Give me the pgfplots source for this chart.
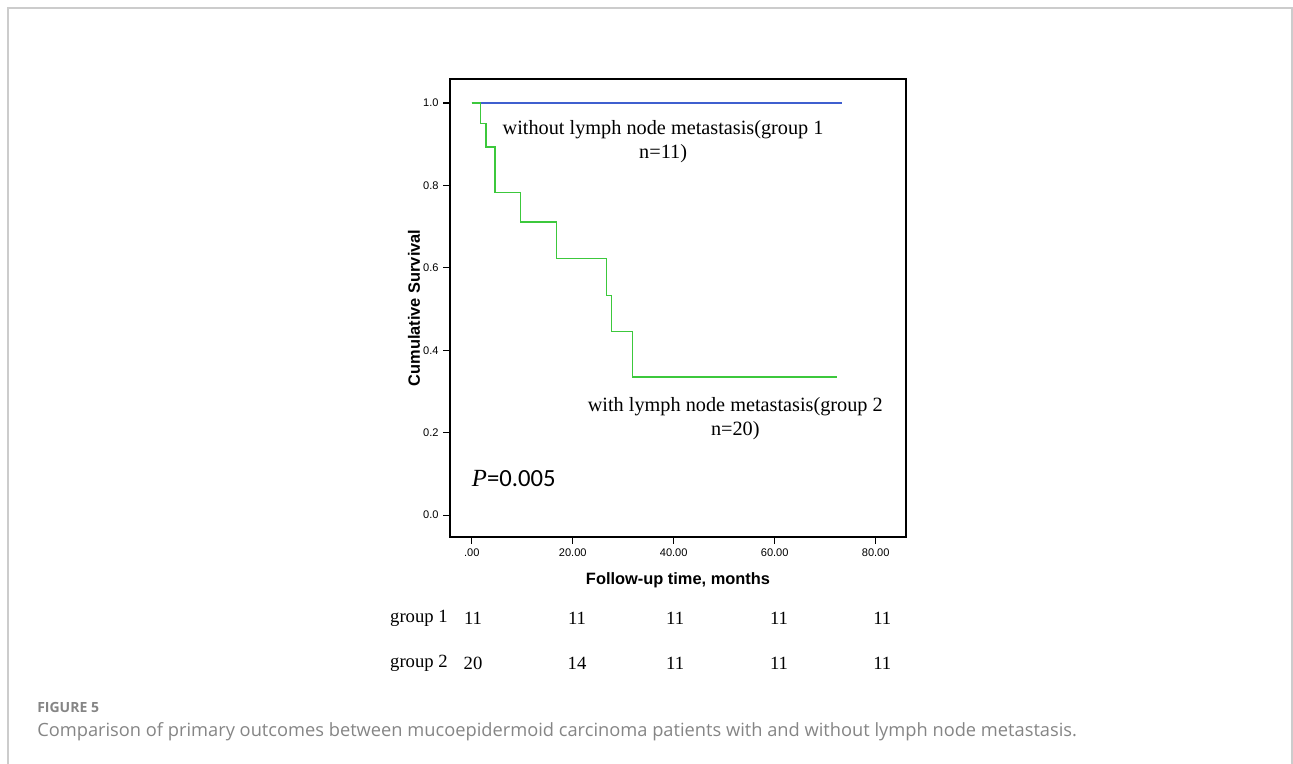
\documentclass[border=0pt]{standalone}
\usepackage{fontspec}
\setmainfont{Liberation Serif}
\setsansfont{Liberation Sans}
\newfontfamily\capfont{Open Sans}
\newfontfamily\calfont{Carlito}
\usepackage{pgfplots}
\pgfplotsset{compat=1.18}
\definecolor{kmblue}{HTML}{3F5FCF}
\definecolor{kmgreen}{HTML}{3CC83C}
\definecolor{capgray}{HTML}{858585}
\definecolor{framegray}{HTML}{CCCCCC}

\begin{document}
\begin{tikzpicture}
% page of 1293 x 764 px, 1 px = 0.75 pt
\path[use as bounding box] (0,0) rectangle (969.75pt,-573pt);
\draw[framegray, line width=1.2pt] (6pt,-573pt) -- (6pt,-6pt) -- (969pt,-6pt) -- (969pt,-573pt);

\begin{axis}[
  at={(337.5pt,-402.75pt)}, anchor=south west,
  scale only axis,
  width=342pt, height=343.5pt,
  xmin=-4.3, xmax=86,
  ymin=-0.053, ymax=1.058,
  axis line style={line width=1pt},
  xtick={0,20,40,60,80},
  xticklabels={.00,20.00,40.00,60.00,80.00},
  ytick={0,0.2,0.4,0.6,0.8,1.0},
  yticklabels={0.0,0.2,0.4,0.6,0.8,1.0},
  xtick pos=bottom, ytick pos=left,
  tick align=outside,
  major tick length=5pt,
  tick style={black, line width=0.9pt},
  ticklabel style={font=\sffamily\fontsize{8.3}{9}\selectfont},
  xlabel={Follow-up time, months},
  ylabel={Cumulative Survival},
  label style={font=\sffamily\bfseries\fontsize{12.3}{14}\selectfont},
  xlabel style={at={(axis description cs:0.5,-0.094)}, anchor=center},
  ylabel style={at={(axis description cs:-0.079,0.5)}, anchor=center},
  clip=false,
]
% group 1: no events
\addplot[kmblue, line width=0.9pt, const plot] coordinates {
  (0,1.0) (73.3,1.0)
};
% group 2
\addplot[kmgreen, line width=1pt, const plot] coordinates {
  (0,1.0) (1.8,0.950) (2.8,0.893) (4.6,0.783) (9.6,0.711) (16.8,0.622)
  (26.7,0.533) (27.7,0.446) (31.9,0.335) (72.3,0.335)
};

\node[font=\fontsize{15.2}{18}\selectfont, align=center] at (axis cs:37.9,0.905)
  {without lymph node metastasis(group 1\\n=11)};
\node[font=\fontsize{15.2}{18}\selectfont, align=center] at (axis cs:52.2,0.234)
  {with lymph node metastasis(group 2\\n=20)};
\node[anchor=west, inner sep=0pt, font=\fontsize{18.5}{21}\selectfont] at (axis cs:0,0.088)
  {\textit{P}\calfont=0.005};

% numbers at risk
\node[anchor=west, inner sep=0pt, font=\fontsize{14}{16}\selectfont] at (axis cs:-16.2,-0.25) {group 1};
\node[anchor=west, inner sep=0pt, font=\fontsize{14}{16}\selectfont] at (axis cs:-16.2,-0.359) {group 2};
\node[font=\fontsize{14}{16}\selectfont] at (axis cs:0.26,-0.25) {11};
\node[font=\fontsize{14}{16}\selectfont] at (axis cs:20.85,-0.25) {11};
\node[font=\fontsize{14}{16}\selectfont] at (axis cs:40.3,-0.25) {11};
\node[font=\fontsize{14}{16}\selectfont] at (axis cs:60.85,-0.25) {11};
\node[font=\fontsize{14}{16}\selectfont] at (axis cs:81.3,-0.25) {11};
\node[font=\fontsize{14}{16}\selectfont] at (axis cs:0.26,-0.359) {20};
\node[font=\fontsize{14}{16}\selectfont] at (axis cs:20.85,-0.359) {14};
\node[font=\fontsize{14}{16}\selectfont] at (axis cs:40.3,-0.359) {11};
\node[font=\fontsize{14}{16}\selectfont] at (axis cs:60.85,-0.359) {11};
\node[font=\fontsize{14}{16}\selectfont] at (axis cs:81.3,-0.359) {11};
\end{axis}

\node[anchor=base west, inner sep=0pt, text=capgray, font=\capfont\bfseries\fontsize{10.5}{12}\selectfont] at (27.75pt,-534pt) {FIGURE 5};
\node[anchor=base west, inner sep=0pt, text=capgray, font=\capfont\fontsize{13.7}{16}\selectfont] at (27.75pt,-552pt)
  {Comparison of primary outcomes between mucoepidermoid carcinoma patients with and without lymph node metastasis.};
\end{tikzpicture}
\end{document}
